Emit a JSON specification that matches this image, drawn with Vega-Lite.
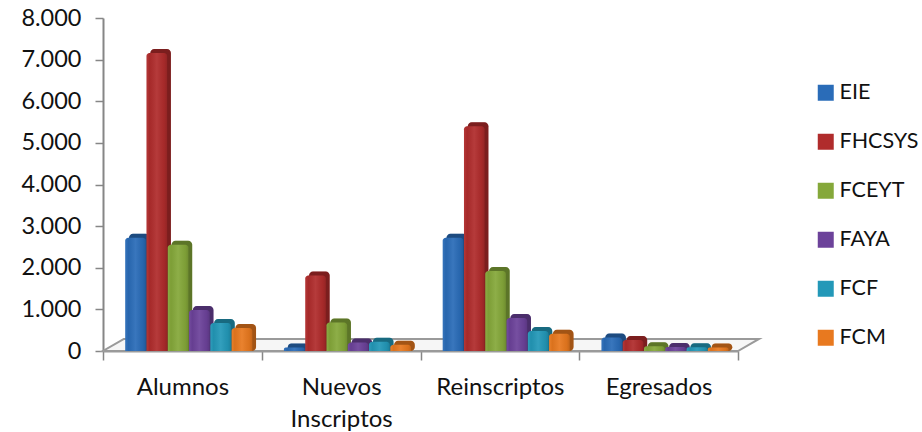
{"$schema":"https://vega.github.io/schema/vega-lite/v6.json","width":635,"height":333,"autosize":"none","padding":{"left":103,"top":18,"right":184,"bottom":81},"background":"white","config":{"view":{"stroke":null},"font":"Lato"},"datasets":{"bars":[{"cat":"Alumnos","esc":"EIE","v":2650},{"cat":"Alumnos","esc":"FHCSYS","v":7090},{"cat":"Alumnos","esc":"FCEYT","v":2480},{"cat":"Alumnos","esc":"FAYA","v":915},{"cat":"Alumnos","esc":"FCF","v":600},{"cat":"Alumnos","esc":"FCM","v":480},{"cat":"Nuevos Inscriptos","esc":"EIE","v":10},{"cat":"Nuevos Inscriptos","esc":"FHCSYS","v":1740},{"cat":"Nuevos Inscriptos","esc":"FCEYT","v":610},{"cat":"Nuevos Inscriptos","esc":"FAYA","v":130},{"cat":"Nuevos Inscriptos","esc":"FCF","v":150},{"cat":"Nuevos Inscriptos","esc":"FCM","v":80},{"cat":"Reinscriptos","esc":"EIE","v":2650},{"cat":"Reinscriptos","esc":"FHCSYS","v":5330},{"cat":"Reinscriptos","esc":"FCEYT","v":1850},{"cat":"Reinscriptos","esc":"FAYA","v":720},{"cat":"Reinscriptos","esc":"FCF","v":410},{"cat":"Reinscriptos","esc":"FCM","v":340},{"cat":"Egresados","esc":"EIE","v":250},{"cat":"Egresados","esc":"FHCSYS","v":190},{"cat":"Egresados","esc":"FCEYT","v":40},{"cat":"Egresados","esc":"FAYA","v":25},{"cat":"Egresados","esc":"FCF","v":20},{"cat":"Egresados","esc":"FCM","v":10}],"floor":[{"a":0,"b":635,"h":0},{"a":21,"b":656,"h":289}]},"layer":[{"data":{"name":"floor"},"mark":{"type":"area","orient":"horizontal","fill":"#f6f6f6","stroke":"#9a9a9a","strokeWidth":2},"encoding":{"y":{"field":"h","type":"quantitative","scale":{"domain":[0,8000],"nice":false},"axis":{"title":null,"values":[0,1000,2000,3000,4000,5000,6000,7000,8000],"labelExpr":"replace(format(datum.value,','),',','.')","labelFontSize":23.5,"labelColor":"#111111","labelPadding":14,"tickSize":8,"tickWidth":1.5,"tickColor":"#868686","domainColor":"#868686","domainWidth":2,"grid":false}},"x":{"field":"a","type":"quantitative","scale":{"domain":[0,635],"nice":false,"zero":false},"axis":null},"x2":{"field":"b"}}},{"data":{"name":"bars"},"layer":[{"layer":[{"mark":{"type":"bar","yOffset":-7,"y2Offset":-7,"cornerRadius":4},"encoding":{"color":{"field":"esc","type":"nominal","legend":null,"scale":{"domain":["EIE","FHCSYS","FCEYT","FAYA","FCF","FCM"],"range":["#2a6cb8","#b02c2c","#85a83a","#6c429a","#2398b8","#e8791f"]}}}},{"mark":{"type":"bar","yOffset":-7,"y2Offset":-7,"cornerRadius":4,"color":"#000000","opacity":0.3}}],"encoding":{"xOffset":{"field":"esc","type":"nominal","sort":["EIE","FHCSYS","FCEYT","FAYA","FCF","FCM"],"scale":{"paddingInner":0.03,"paddingOuter":0.745,"align":0.82}}}},{"layer":[{"mark":{"type":"bar","yOffset":-3,"y2Offset":-3,"cornerRadiusTopLeft":3,"cornerRadiusTopRight":3},"encoding":{"color":{"field":"esc","type":"nominal","scale":{"domain":["EIE","FHCSYS","FCEYT","FAYA","FCF","FCM"],"range":["#2a6cb8","#b02c2c","#85a83a","#6c429a","#2398b8","#e8791f"]},"legend":{"title":null,"orient":"none","legendX":712,"legendY":64,"symbolType":"square","symbolSize":256,"symbolStrokeWidth":0,"labelFontSize":21.5,"labelColor":"#111111","labelOffset":3,"rowPadding":26,"labelFont":"Lato"}}}},{"mark":{"type":"bar","yOffset":-3,"y2Offset":-3,"cornerRadiusTopLeft":3,"cornerRadiusTopRight":3,"color":{"gradient":"linear","x1":0,"x2":1,"y1":0,"y2":0,"stops":[{"offset":0,"color":"rgba(255,255,255,0.05)"},{"offset":0.15,"color":"rgba(0,0,0,0.06)"},{"offset":0.5,"color":"rgba(255,255,255,0.07)"},{"offset":0.85,"color":"rgba(0,0,0,0.06)"},{"offset":1,"color":"rgba(0,0,0,0.16)"}]}}}],"encoding":{"xOffset":{"field":"esc","type":"nominal","sort":["EIE","FHCSYS","FCEYT","FAYA","FCF","FCM"],"scale":{"paddingInner":0.03,"paddingOuter":0.745,"align":0.7}}}}],"resolve":{"scale":{"xOffset":"independent","color":"independent"}},"encoding":{"x":{"field":"cat","type":"nominal","sort":["Alumnos","Nuevos Inscriptos","Reinscriptos","Egresados"],"scale":{"paddingInner":0,"paddingOuter":0},"axis":{"title":null,"labelAngle":0,"labelExpr":"split(datum.label,' ')","labelFontSize":24,"labelColor":"#111111","labelPadding":15,"labelLineHeight":32,"labelBaseline":"top","tickBand":"extent","tickSize":9,"tickWidth":1.5,"tickColor":"#868686","domainColor":"#9a9a9a","domainWidth":2,"grid":false}},"y":{"field":"v","type":"quantitative","stack":null,"scale":{"domain":[0,8000],"nice":false},"axis":{"title":null,"values":[0,1000,2000,3000,4000,5000,6000,7000,8000],"labelExpr":"replace(format(datum.value,','),',','.')","labelFontSize":23.5,"labelColor":"#111111","labelPadding":14,"tickSize":8,"tickWidth":1.5,"tickColor":"#868686","domainColor":"#868686","domainWidth":2,"grid":false}}}}],"resolve":{"scale":{"x":"independent"},"axis":{"x":"independent"}}}
